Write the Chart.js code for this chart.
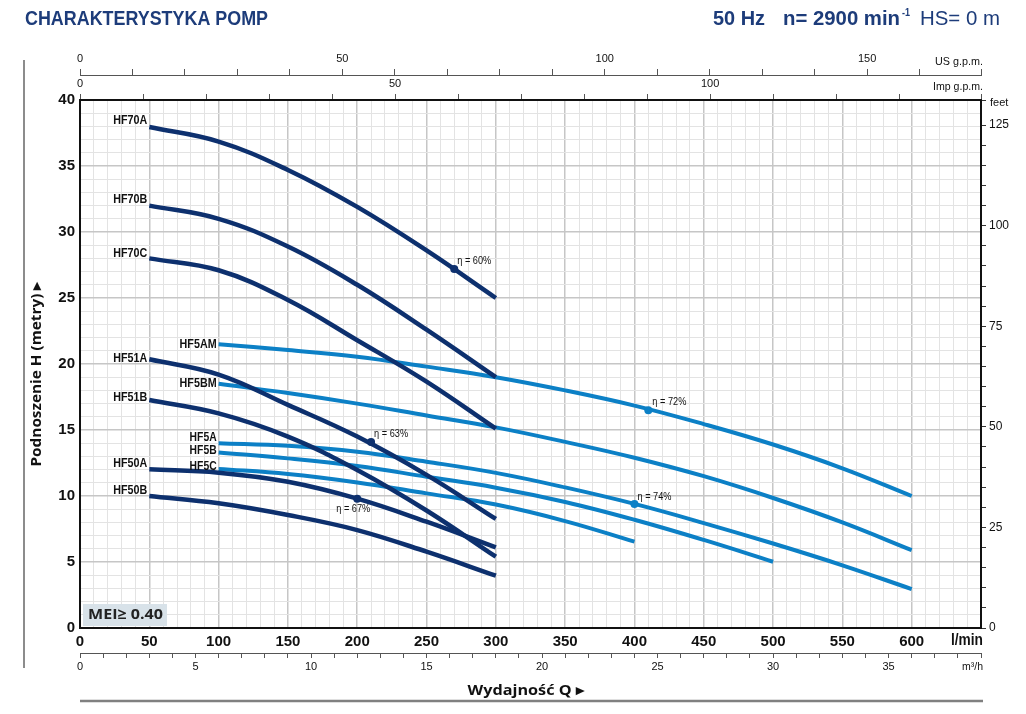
<!DOCTYPE html>
<html><head><meta charset="utf-8">
<script src="https://cdn.jsdelivr.net/npm/chart.js@4.4.1/dist/chart.umd.min.js"></script>
<style>html,body{margin:0;padding:0;background:#fff}#wrap{width:1026px;height:714px;position:relative}</style>
</head><body><div id="wrap"><canvas id="c" width="1026" height="714"></canvas></div>
<script>
// ---------- data ----------
const qDark  = [50, 100, 150, 200, 250, 300];           // l/min
const qLight = [100, 150, 200, 250, 300, 350, 400, 450, 500, 550, 600];

const hHF70A = [37.95, 36.85, 34.7, 31.9, 28.6, 25.0];
const hHF70B = [32.0, 31.0, 28.9, 26.0, 22.6, 19.0];
const hHF70C = [28.0, 27.1, 24.85, 21.8, 18.66, 15.1];
const hHF51A = [20.36, 19.2, 16.9, 14.5, 11.6, 8.26];
const hHF51B = [17.27, 16.26, 14.5, 11.97, 8.9, 5.4];
const hHF50A = [12.02, 11.77, 11.08, 9.8, 8.05, 6.11];
const hHF50B = [10.0, 9.45, 8.56, 7.42, 5.78, 3.96];

const hHF5AM = [21.5, 21.06, 20.55, 19.8, 19.0, 18.0, 16.85, 15.45, 13.9, 12.1, 10.0];
const hHF5BM = [18.5, 17.8, 17.0, 16.1, 15.2, 14.1, 12.9, 11.5, 9.85, 8.0, 5.9];
const hHF5A  = [14.0, 13.8, 13.36, 12.6, 11.75, 10.65, 9.4, 7.95, 6.4, 4.75, 2.95];
const hHF5B  = [13.3, 12.85, 12.27, 11.46, 10.63, 9.55, 8.2, 6.67, 5.02];
const hHF5C  = [12.05, 11.67, 11.03, 10.2, 9.35, 8.1, 6.54];

const darkNames  = ['HF70A', 'HF70B', 'HF70C', 'HF51A', 'HF51B', 'HF50A', 'HF50B'];
const darkH      = [hHF70A, hHF70B, hHF70C, hHF51A, hHF51B, hHF50A, hHF50B];
const lightNames = ['HF5AM', 'HF5BM', 'HF5A', 'HF5B', 'HF5C'];
const lightH     = [hHF5AM, hHF5BM, hHF5A, hHF5B, hHF5C];

const etaQ    = [270, 210, 200, 410, 400];
const etaH    = [27.2, 14.1, 9.8, 16.5, 9.4];
const etaText = ['η = 60%', 'η = 63%', 'η = 67%', 'η = 72%', 'η = 74%'];
const etaDark = [true, true, true, false, false];

const qMax = 650, hMax = 40;
const LPM_PER_USGPM = 3.78541, LPM_PER_IMPGPM = 4.54609, FT_PER_M = 3.28084, M3H_PER_LPM = 0.06;

// ---------- styles ----------
const DARK = '#0d306e', LIGHT = '#0c80c6', NAVY = '#1d3c7a';
const GRID_MAJ = '#c6c6c6', GRID_MIN = '#e3e3e3';
const SANS = '"Liberation Sans", Arial, sans-serif';

const datasets = [];
darkNames.forEach((n, i) => datasets.push({
  label: n, data: qDark.map((q, j) => ({x: q, y: darkH[i][j]})),
  borderColor: DARK, borderWidth: 4.5, pointRadius: 0, tension: 0.4,
  fill: false, order: 1, xAxisID: 'x', yAxisID: 'y'
}));
lightNames.forEach((n, i) => datasets.push({
  label: n, data: qLight.slice(0, lightH[i].length).map((q, j) => ({x: q, y: lightH[i][j]})),
  borderColor: LIGHT, borderWidth: 4, pointRadius: 0, tension: 0.4,
  fill: false, order: 2, xAxisID: 'x', yAxisID: 'y'
}));
datasets.push({
  type: 'scatter', label: 'eta', data: etaQ.map((q, i) => ({x: q, y: etaH[i]})),
  pointRadius: 4, pointBorderWidth: 0,
  pointBackgroundColor: etaDark.map(d => d ? DARK : LIGHT), showLine: false,
  order: 0, xAxisID: 'x', yAxisID: 'y'
});

function txt(ctx, s, x, y, font, color, align, targetW, rot) {
  ctx.save();
  ctx.font = font; ctx.fillStyle = color; ctx.textBaseline = 'middle';
  ctx.translate(x, y);
  if (rot) ctx.rotate(rot);
  let sx = 1;
  if (targetW) sx = targetW / ctx.measureText(s).width;
  ctx.scale(sx, 1);
  ctx.textAlign = align || 'left';
  ctx.fillText(s, 0, 0);
  ctx.restore();
}

// label offsets (px) relative to first point of each curve
const nameOffsets = {HF70A: -6, HF70B: -6, HF70C: -5, HF51A: -1, HF51B: -2, HF50A: -6, HF50B: -5,
                     HF5AM: 0, HF5BM: 0, HF5A: -6, HF5B: -2, HF5C: -3};
const etaOffsets = [[3, -8, 'left'], [3, -8, 'left'], [-4, 11, 'center'], [4, -8, 'left'], [3, -7, 'left']];

const deco = {
  id: 'deco',
  beforeDatasetsDraw(chart) {
    const ctx = chart.ctx, a = chart.chartArea;
    ctx.save();
    ctx.fillStyle = '#d8e2e9';
    ctx.fillRect(a.left + 3, a.bottom - 24, 84, 22);
    ctx.restore();
    txt(ctx, 'MEI≥ 0.40', a.left + 8, a.bottom - 13, 'bold 15px "Open Sans", ' + SANS, '#222', 'left', 75);
  },
  afterDraw(chart) {
    const ctx = chart.ctx, sx = chart.scales.x, sy = chart.scales.y;
    // header
    txt(ctx, 'CHARAKTERYSTYKA POMP', 25, 19, 'bold 21px ' + SANS, NAVY, 'left', 243);
    txt(ctx, '50 Hz', 713, 19, 'bold 21px ' + SANS, NAVY, 'left', 52);
    txt(ctx, 'n= 2900 min', 783, 19, 'bold 21px ' + SANS, NAVY, 'left', 117);
    txt(ctx, '-1', 902, 13, 'bold 11px ' + SANS, NAVY, 'left', 8);
    txt(ctx, 'HS= 0 m', 920, 19, '21px ' + SANS, NAVY, 'left', 80);
    // axis unit labels
    txt(ctx, 'US g.p.m.', 983, 62, '11px ' + SANS, '#111', 'right', 48);
    txt(ctx, 'Imp g.p.m.', 983, 87, '11px ' + SANS, '#111', 'right', 50);
    txt(ctx, 'feet', 990, 103, '11px ' + SANS, '#111', 'left');
    txt(ctx, 'l/min', 983, 641, 'bold 16px ' + SANS, '#111', 'right', 32);
    txt(ctx, 'm³/h', 983, 667, '11px ' + SANS, '#111', 'right', 21);
    // titles
    txt(ctx, 'Wydajność Q ▸', 526, 691, 'bold 15px "Open Sans", ' + SANS, '#111', 'center', 117);
    txt(ctx, 'Podnoszenie H (metry) ▸', 37, 374, 'bold 15px "Open Sans", ' + SANS, '#111', 'center', 185, -Math.PI / 2);
    // decorative lines
    ctx.save();
    ctx.strokeStyle = '#666'; ctx.lineWidth = 1.5;
    ctx.beginPath(); ctx.moveTo(24, 60); ctx.lineTo(24, 668); ctx.stroke();
    ctx.strokeStyle = '#808080'; ctx.lineWidth = 2.5;
    ctx.beginPath(); ctx.moveTo(80, 701); ctx.lineTo(983, 701); ctx.stroke();
    ctx.restore();
    // curve names
    darkNames.concat(lightNames).forEach((n, i) => {
      const p = chart.data.datasets[i].data[0];
      const X = sx.getPixelForValue(p.x), Y = sy.getPixelForValue(p.y);
      const small = n.length === 4;
      txt(ctx, n, X - 2, Y + nameOffsets[n], 'bold ' + (small ? 13 : 12) + 'px ' + SANS, '#111', 'right',
          small ? 27 : (n === 'HF5AM' || n === 'HF5BM' ? 37 : 34));
    });
    // efficiency labels
    etaText.forEach((t, i) => {
      const X = sx.getPixelForValue(etaQ[i]), Y = sy.getPixelForValue(etaH[i]);
      const o = etaOffsets[i];
      txt(ctx, t, X + o[0], Y + o[1], '10px ' + SANS, '#111', o[2], 34);
    });
  }
};

const every = (m) => (v) => (Math.abs(v % m) < 1e-9 ? String(v) : '');
const gridCol = (m) => (c) => (c.tick && Math.abs(c.tick.value % m) < 1e-9 ? GRID_MAJ : GRID_MIN);
const gridW = (m) => (c) => (c.tick && Math.abs(c.tick.value % m) < 1e-9 ? 1.5 : 1);

new Chart(document.getElementById('c'), {
  type: 'line',
  data: {datasets},
  plugins: [deco],
  options: {
    responsive: false, animation: false, devicePixelRatio: 1,
    layout: {padding: {left: 0, right: 0, top: 50, bottom: 36}},
    plugins: {legend: {display: false}, tooltip: {enabled: false}},
    scales: {
      x: {
        type: 'linear', position: 'bottom', weight: 0, min: 0, max: qMax,
        ticks: {stepSize: 10, autoSkip: false, maxRotation: 0, minRotation: 0, padding: 5,
                callback: (v) => (v % 50 === 0 && v <= 600 ? String(v) : ''),
                font: {family: SANS, size: 15, weight: 'bold'}, color: '#111'},
        grid: {color: gridCol(50), lineWidth: gridW(50), drawTicks: false},
        border: {display: true, color: '#111', width: 2},
        afterFit: (s) => { s.height = 25; }
      },
      m3h: {
        type: 'linear', position: 'bottom', weight: 1, min: 0, max: qMax * M3H_PER_LPM,
        ticks: {stepSize: 1, autoSkip: false, maxRotation: 0, minRotation: 0, padding: 2,
                callback: every(5), font: {family: SANS, size: 11}, color: '#111'},
        grid: {drawOnChartArea: false, drawTicks: true, tickLength: 5, color: '#555', lineWidth: 1},
        border: {display: true, color: '#555', width: 1},
        afterFit: (s) => { s.height = 25; }
      },
      imp: {
        type: 'linear', position: 'top', weight: 1, min: 0, max: qMax / LPM_PER_IMPGPM,
        ticks: {stepSize: 10, autoSkip: false, maxRotation: 0, minRotation: 0, padding: 3,
                callback: every(50), font: {family: SANS, size: 11}, color: '#111'},
        grid: {drawOnChartArea: false, drawTicks: true, tickLength: 6, color: '#555', lineWidth: 1},
        border: {display: true, color: '#111', width: 2},
        afterFit: (s) => { s.height = 25; }
      },
      us: {
        type: 'linear', position: 'top', weight: 2, min: 0, max: qMax / LPM_PER_USGPM,
        ticks: {stepSize: 10, autoSkip: false, maxRotation: 0, minRotation: 0, padding: 3,
                callback: every(50), font: {family: SANS, size: 11}, color: '#111'},
        grid: {drawOnChartArea: false, drawTicks: true, tickLength: 6, color: '#555', lineWidth: 1},
        border: {display: true, color: '#555', width: 1},
        afterFit: (s) => { s.height = 25; }
      },
      y: {
        type: 'linear', position: 'left', min: 0, max: hMax,
        ticks: {stepSize: 1, autoSkip: false, padding: 5, callback: every(5),
                font: {family: SANS, size: 15, weight: 'bold'}, color: '#111'},
        grid: {color: gridCol(5), lineWidth: gridW(5), drawTicks: false},
        border: {display: true, color: '#111', width: 2},
        afterFit: (s) => { s.width = 80; }
      },
      feet: {
        type: 'linear', position: 'right', min: 0, max: hMax * FT_PER_M,
        ticks: {stepSize: 5, autoSkip: false, padding: 3, callback: every(25),
                font: {family: SANS, size: 12}, color: '#111'},
        grid: {drawOnChartArea: false, drawTicks: true, tickLength: 5, color: '#333', lineWidth: 1},
        border: {display: true, color: '#111', width: 2},
        afterFit: (s) => { s.width = 45; }
      }
    }
  }
});
</script></body></html>
